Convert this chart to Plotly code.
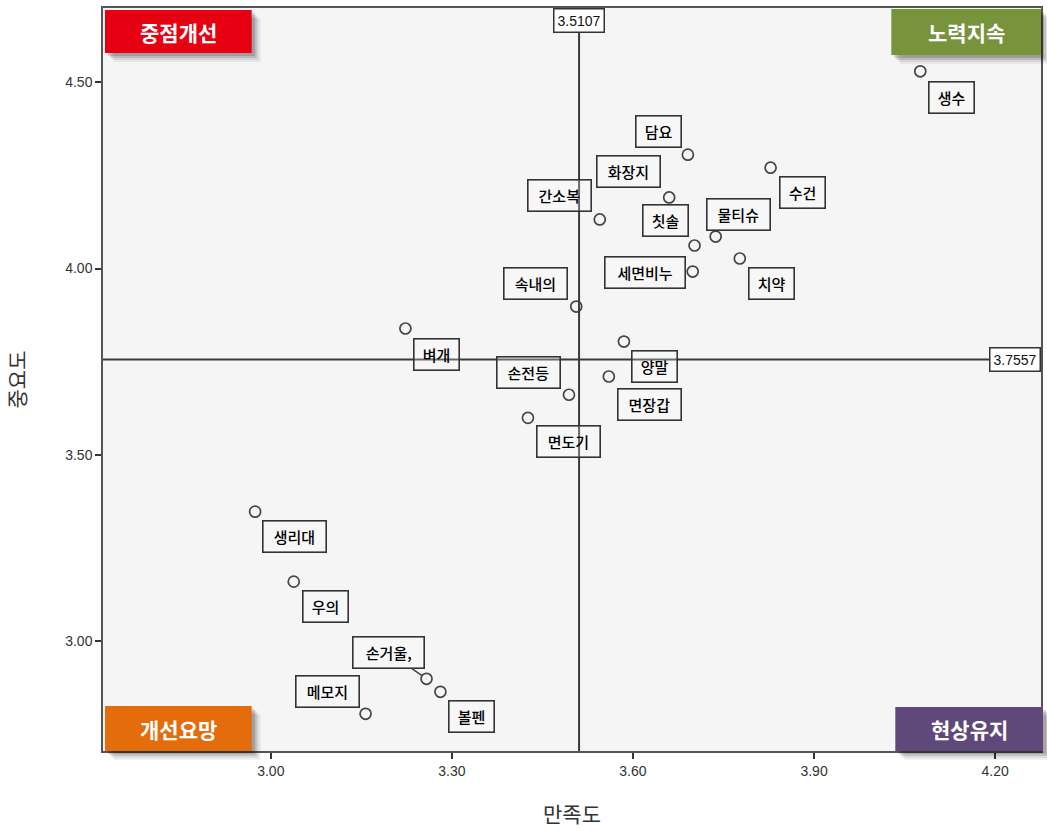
import plotly.graph_objects as go

# ---------------- data ----------------
items = ["생수", "담요", "수건", "화장지", "간소복", "물티슈", "칫솔", "세면비누", "치약", "속내의",
         "벼개", "양말", "손전등", "면장갑", "면도기", "생리대", "우의", "손거울,", "볼펜", "메모지"]
satisfaction = [4.076, 3.691, 3.828, 3.660, 3.545, 3.737, 3.702, 3.699, 3.777, 3.506,
                3.223, 3.585, 3.494, 3.560, 3.426, 2.974, 3.038, 3.258, 3.281, 3.157]
importance = [4.530, 4.306, 4.271, 4.191, 4.132, 4.086, 4.062, 3.992, 4.027, 3.898,
              3.839, 3.804, 3.661, 3.710, 3.599, 3.347, 3.159, 2.898, 2.863, 2.804]
x_ref = 3.5107
y_ref = 3.7557
x_ticks = [3.00, 3.30, 3.60, 3.90, 4.20]
y_ticks = [3.00, 3.50, 4.00, 4.50]
quadrants = ["중점개선", "노력지속", "개선요망", "현상유지"]
x_title = "만족도"
y_title = "중요도"

# ---------------- styles / layout ----------------
W, H = 1047, 831
ML, MR, MT, MB = 103, 4, 8, 80
PW, PH = W - ML - MR, H - MT - MB

def px(xp):
    return (xp - ML) / PW

def py(yp):
    return (H - MB - yp) / PH

# label placement: (xanchor, yanchor, xshift, yshift)
label_pos = {
    "생수": ("left", "top", 8, -10),
    "담요": ("right", "bottom", -6, 7),
    "수건": ("left", "top", 8, -8),
    "화장지": ("right", "bottom", -8, 9),
    "간소복": ("right", "bottom", -8, 7),
    "물티슈": ("left", "bottom", -10, 6),
    "칫솔": ("right", "bottom", -6, 8),
    "세면비누": ("right", "middle", -7, -1),
    "치약": ("left", "top", 8, -8),
    "속내의": ("right", "bottom", -8, 7),
    "벼개": ("left", "top", 8, -9),
    "양말": ("left", "top", 7, -8),
    "손전등": ("right", "bottom", -8, 6),
    "면장갑": ("left", "top", 8, -11),
    "면도기": ("left", "top", 8, -7),
    "생리대": ("left", "top", 7, -8),
    "우의": ("left", "top", 8, -8),
    "볼펜": ("left", "top", 8, -8),
    "메모지": ("right", "bottom", -6, 6),
}
arrow_labels = {"손거울,": (-38, -26)}

KFONT = "Noto Sans CJK KR, Noto Sans, sans-serif"
NFONT = "Liberation Sans, Arial, sans-serif"

fig = go.Figure()
fig.add_trace(go.Scatter(
    x=satisfaction, y=importance, mode="markers",
    marker=dict(symbol="circle-open", size=11, color="#444444", line=dict(width=1.7)),
    hoverinfo="text", text=items, showlegend=False,
))

annotations = []
for name, xv, yv in zip(items, satisfaction, importance):
    n = sum(0.5 if c in ",." else 1 for c in name)
    w = 17.5 * n - 1
    common = dict(
        x=xv, y=yv, xref="x", yref="y", text=name,
        font=dict(family=KFONT, size=15, color="#000000", weight=500),
        bgcolor="rgba(255,255,255,0.25)", bordercolor="#333333", borderwidth=1.6,
        borderpad=5, width=w, height=20, align="center", valign="middle",
    )
    if name in arrow_labels:
        ax, ay = arrow_labels[name]
        annotations.append(dict(common, showarrow=True, ax=ax, ay=ay, axref="pixel", ayref="pixel",
                                arrowhead=0, arrowwidth=1.5, arrowcolor="#444444", standoff=5))
    else:
        xa, ya, xs, ys = label_pos[name]
        annotations.append(dict(common, showarrow=False, xanchor=xa, yanchor=ya, xshift=xs, yshift=ys))

# reference value labels
annotations.append(dict(x=x_ref, y=1, xref="x", yref="paper", text=f"{x_ref:.4f}", showarrow=False,
                        xanchor="center", yanchor="top", font=dict(family=NFONT, size=14, color="#111"),
                        bgcolor="white", bordercolor="#333333", borderwidth=1.5, borderpad=3))
annotations.append(dict(x=1, y=y_ref, xref="paper", yref="y", text=f"{y_ref:.4f}", showarrow=False,
                        xanchor="right", yanchor="middle", font=dict(family=NFONT, size=14, color="#111"),
                        bgcolor="white", bordercolor="#333333", borderwidth=1.5, borderpad=3))

shapes = [
    dict(type="line", xref="x", yref="paper", x0=x_ref, x1=x_ref, y0=0, y1=1,
         line=dict(color="#3a3a3a", width=2), layer="above"),
    dict(type="line", xref="paper", yref="y", x0=0, x1=1, y0=y_ref, y1=y_ref,
         line=dict(color="#3a3a3a", width=2), layer="above"),
]

# quadrant badges (pixel boxes)
badge_boxes = [(105, 252, 10, 53), (893, 1043, 9, 55), (105, 252, 706, 751), (897, 1045, 707, 751)]
badge_colors = ["#E60012", "#77933C", "#E46C0A", "#5F497A"]
for label, (x0, x1, y0, y1), col in zip(quadrants, badge_boxes, badge_colors):
    for off, alpha in ((9, 0.06), (7, 0.08), (5, 0.12), (3, 0.15)):
        shapes.append(dict(type="rect", xref="paper", yref="paper",
                           x0=px(x0 + off), x1=px(x1 + off), y0=py(y1 + off), y1=py(y0 + off),
                           line=dict(width=0), fillcolor=f"rgba(0,0,0,{alpha})", layer="above"))
    shapes.append(dict(type="rect", xref="paper", yref="paper",
                       x0=px(x0), x1=px(x1), y0=py(y1), y1=py(y0),
                       line=dict(width=0), fillcolor=col, layer="above"))
    annotations.append(dict(x=px((x0 + x1) / 2), y=py((y0 + y1) / 2), xref="paper", yref="paper",
                            text=label, showarrow=False, xanchor="center", yanchor="middle",
                            font=dict(family=KFONT, size=21, color="white", weight="bold")))

fig.update_layout(
    width=W, height=H,
    margin=dict(l=ML, r=MR, t=MT, b=MB),
    paper_bgcolor="white", plot_bgcolor="#F5F5F5",
    shapes=shapes, annotations=annotations,
    xaxis=dict(range=[2.722, 4.276], tickvals=x_ticks, tickformat=".2f", ticks="outside",
               ticklen=6, tickwidth=1.5, tickcolor="#333", showgrid=False, zeroline=False,
               showline=True, linecolor="#555", linewidth=1.5, mirror=True,
               tickfont=dict(family=NFONT, size=14, color="#333"),
               title=dict(text=x_title, font=dict(family=KFONT, size=21, color="#333"), standoff=30)),
    yaxis=dict(range=[2.704, 4.70], tickvals=y_ticks, tickformat=".2f", ticks="outside",
               ticklen=6, tickwidth=1.5, tickcolor="#333", showgrid=False, zeroline=False,
               showline=True, linecolor="#555", linewidth=1.5, mirror=True,
               tickfont=dict(family=NFONT, size=14, color="#333"),
               title=dict(text=y_title, font=dict(family=KFONT, size=21, color="#333"), standoff=34)),
)

fig.write_html("out.html", config={"displayModeBar": False},
               post_script="document.body.style.margin='0';")
